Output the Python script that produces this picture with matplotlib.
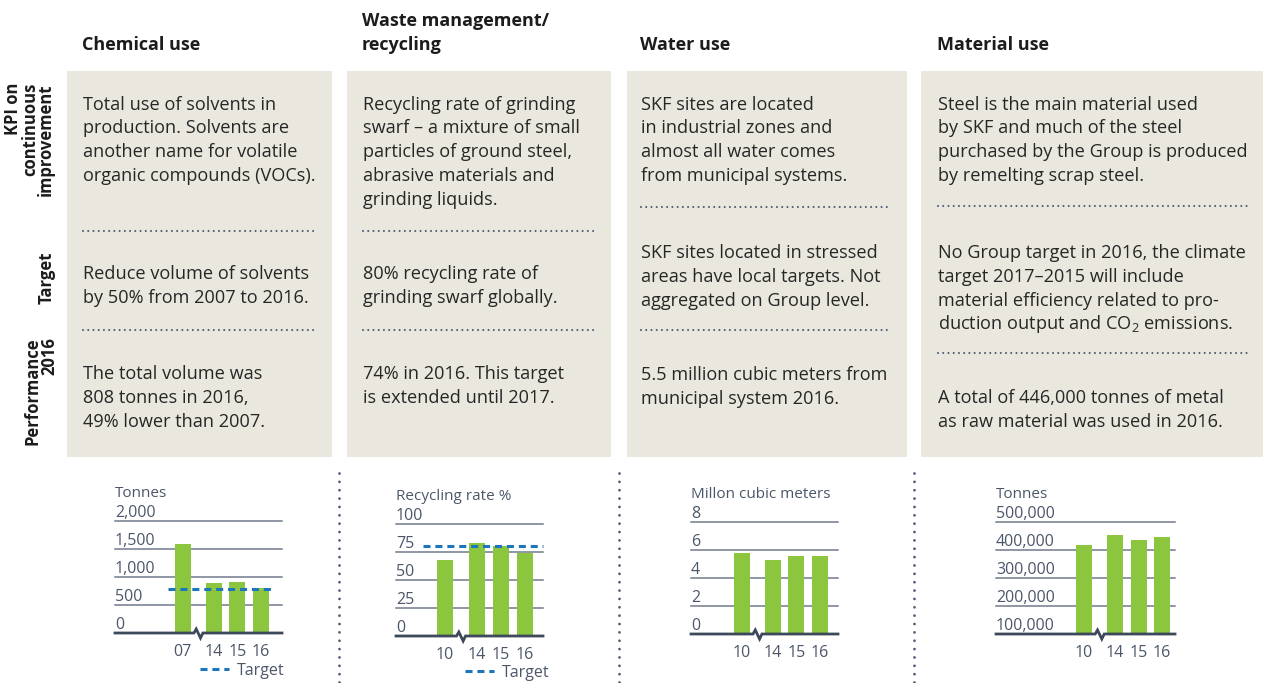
import matplotlib
matplotlib.use('Agg')
import matplotlib.pyplot as plt
from matplotlib.patches import Rectangle
from matplotlib.lines import Line2D

# ---------------- data ----------------
chem_years = ['07', '14', '15', '16']
chem_values = [1584, 900, 915, 808]
chem_target = 792
chem_ticks = [0, 500, 1000, 1500, 2000]
chem_tick_labels = ['0', '500', '1,000', '1,500', '2,000']

waste_years = ['10', '14', '15', '16']
waste_values = [68, 83, 80, 74]
waste_target = 80
waste_ticks = [0, 25, 50, 75, 100]
waste_tick_labels = ['0', '25', '50', '75', '100']

water_years = ['10', '14', '15', '16']
water_values = [5.8, 5.3, 5.55, 5.55]
water_ticks = [0, 2, 4, 6, 8]
water_tick_labels = ['0', '2', '4', '6', '8']

material_years = ['10', '14', '15', '16']
material_values = [418000, 452000, 436000, 446000]
material_ticks = [100000, 200000, 300000, 400000, 500000]
material_tick_labels = ['100,000', '200,000', '300,000', '400,000', '500,000']

headers = [['Chemical use'], ['Waste management/', 'recycling'], ['Water use'], ['Material use']]
kpi_texts = [
    ['Total use of solvents in', 'production. Solvents are',
     'another name for volatile', 'organic compounds (VOCs).'],
    ['Recycling rate of grinding', 'swarf \u2013 a mixture of small',
     'particles of ground steel,', 'abrasive materials and', 'grinding liquids.'],
    ['SKF sites are located', 'in industrial zones and',
     'almost all water comes', 'from municipal systems.'],
    ['Steel is the main material used', 'by SKF and much of the steel',
     'purchased by the Group is produced', 'by remelting scrap steel.'],
]
target_texts = [
    ['Reduce volume of solvents', 'by 50% from 2007 to 2016.'],
    ['80% recycling rate of', 'grinding swarf globally.'],
    ['SKF sites located in stressed', 'areas have local targets. Not',
     'aggregated on Group level.'],
    ['No Group target in 2016, the climate', 'target 2017\u20132015 will include',
     'material efficiency related to pro-', 'duction output and CO$_2$ emissions.'],
]
perf_texts = [
    ['The total volume was', '808 tonnes in 2016,', '49% lower than 2007.'],
    ['74% in 2016. This target', 'is extended until 2017.'],
    ['5.5 million cubic meters from', 'municipal system 2016.'],
    ['A total of 446,000 tonnes of metal', 'as raw material was used in 2016.'],
]
axis_titles = ['Tonnes', 'Recycling rate %', 'Millon cubic meters', 'Tonnes']

# ---------------- style ----------------
W, H = 1263, 683
plt.rcParams['font.family'] = ['Open Sans', 'DejaVu Sans']
plt.rcParams['mathtext.fontset'] = 'custom'
plt.rcParams['mathtext.rm'] = 'Open Sans'
BEIGE = '#eae7de'
TXT = '#262626'
HEAD = '#1c1c1c'
SLATE = '#4b5769'
GRID = '#707b8b'
BASE = '#3d485b'
GREEN = '#8cc63f'
BLUE = '#1d75bc'
DOT = '#4a5a72'

fig = plt.figure(figsize=(W / 100, H / 100), dpi=100)
bg = fig.add_axes([0, 0, 1, 1])
bg.set_xlim(0, W)
bg.set_ylim(H, 0)
bg.axis('off')

panels = [(67, 332), (347, 611), (627, 907), (921, 1263)]
text_x = [83, 363, 641, 938]
dot_x1 = [317, 598, 892, 1250]
kpi_base = 109.5
target_base = [279, 279, 258, 258]
perf_base = [379, 379, 380, 403]
dot_y = [(230.5, 330), (230.5, 330), (207, 329.5), (206, 353)]
LS = 23.8
FS = 13.1

for i, (x0, x1) in enumerate(panels):
    bg.add_patch(Rectangle((x0, 71), x1 - x0, 457 - 71, facecolor=BEIGE, edgecolor='none'))
    for j, line in enumerate(kpi_texts[i]):
        bg.text(text_x[i], kpi_base + j * LS, line, fontsize=FS, color=TXT, va='baseline', ha='left')
    for j, line in enumerate(target_texts[i]):
        bg.text(text_x[i], target_base[i] + j * LS, line, fontsize=FS, color=TXT, va='baseline', ha='left')
    for j, line in enumerate(perf_texts[i]):
        bg.text(text_x[i], perf_base[i] + j * LS, line, fontsize=FS, color=TXT, va='baseline', ha='left')
    for yy in dot_y[i]:
        bg.plot([text_x[i], dot_x1[i]], [yy, yy], color=DOT, lw=1.5,
                linestyle=(0, (0.01, 2.5)), dash_capstyle='round')
    hl = headers[i]
    for j, line in enumerate(hl):
        yb = 50 - (len(hl) - 1 - j) * 24
        bg.text(text_x[i] - 1, yb, line, fontsize=13, fontweight='bold', color=HEAD,
                va='baseline', ha='left')

# row labels (rotated)
row_lbls = [('KPI on', 18, 83), ('continuous', 35, 83), ('improvement', 51, 83),
            ('Target', 52, 252), ('Performance', 38, 337), ('2016', 54, 337)]
for s, xb, yt in row_lbls:
    bg.text(xb, yt, s, rotation=90, rotation_mode='anchor', ha='right', va='baseline',
            fontsize=12, fontweight='bold', color=HEAD)

# vertical dotted separators
for xs in [339, 619, 914]:
    bg.plot([xs, xs], [473, 683], color=DOT, lw=2, linestyle=(0, (0.01, 3.0)),
            dash_capstyle='round', clip_on=False)

# ---------------- charts ----------------
POS = [0, 1.32, 2.32, 3.32]
charts = [
    dict(years=chem_years, vals=chem_values, ticks=chem_ticks, tl=chem_tick_labels,
         left=115, right=282, base=633, top=521, first=182.7, unit=23.5,
         target=chem_target, tx=(-0.62, 0.5), legend=(200, 671), title_y=497),
    dict(years=waste_years, vals=waste_values, ticks=waste_ticks, tl=waste_tick_labels,
         left=396, right=543, base=636, top=524, first=445, unit=24.0,
         target=waste_target, tx=(-0.92, 0.78), legend=(465, 673), title_y=500),
    dict(years=water_years, vals=water_values, ticks=water_ticks, tl=water_tick_labels,
         left=691, right=838, base=634, top=521.7, first=741.7, unit=23.6,
         target=None, title_y=497.5),
    dict(years=material_years, vals=material_values, ticks=material_ticks, tl=material_tick_labels,
         left=996, right=1175, base=634, top=522, first=1084, unit=23.5,
         target=None, title_y=497.5),
]

for c, title in zip(charts, axis_titles):
    L, R, B, T, u = c['left'], c['right'], c['base'], c['top'], c['unit']
    ax = fig.add_axes([L / W, (H - B) / H, (R - L) / W, (B - T) / H])
    ax.patch.set_alpha(0)
    y0, y1 = c['ticks'][0], c['ticks'][-1]
    ax.set_ylim(y0, y1)
    ax.set_xlim((L - c['first']) / u, (R - c['first']) / u)
    for s in ax.spines.values():
        s.set_visible(False)
    ppx = (y1 - y0) / (B - T)  # data units per pixel
    # gridlines
    for t in c['ticks'][1:]:
        ax.axhline(t, color=GRID, lw=1.1, zorder=1, clip_on=False)
    # bars
    ax.bar(POS, c['vals'], width=16 / u, color=GREEN, zorder=2)
    # baseline with break
    xb = (POS[0] + POS[1]) / 2
    xl, xr = ax.get_xlim()
    ax.plot([xl, xb - 4.3 / u, xb - 2 / u, xb + 2.3 / u, xb + 4.7 / u, xr],
            [y0, y0, y0 + 4 * ppx, y0 - 5 * ppx, y0, y0],
            color=BASE, lw=2.0, clip_on=False, zorder=3, solid_joinstyle='miter')
    # target
    if c['target'] is not None:
        a, b = c['tx']
        ax.plot([POS[0] + a, POS[-1] + b], [c['target'], c['target']], color=BLUE, lw=2.2,
                linestyle=(0, (2.3, 1.6)), zorder=4, clip_on=False)
        h = Line2D([], [], color=BLUE, lw=2.2, linestyle=(0, (2.3, 1.6)))
        ax.legend([h], ['Target'], loc='center left', bbox_to_anchor=c['legend'],
                  bbox_transform=bg.transData, frameon=False, fontsize=11.5,
                  handlelength=1.8, handletextpad=0.5, borderpad=0, borderaxespad=0,
                  labelcolor=SLATE)
    # ticks
    ax.set_xticks(POS, c['years'])
    ax.set_yticks(c['ticks'], c['tl'])
    ax.tick_params(axis='x', length=0, pad=8, labelsize=11.5, labelcolor=SLATE)
    ax.tick_params(axis='y', length=0, pad=0, labelsize=11.5, labelcolor=SLATE)
    for lbl in ax.get_yticklabels():
        lbl.set_ha('left')
        lbl.set_va('bottom')
    bg.text(L, c['title_y'], title, fontsize=11, color=SLATE, va='baseline', ha='left')

fig.savefig('out.png', dpi=100)
